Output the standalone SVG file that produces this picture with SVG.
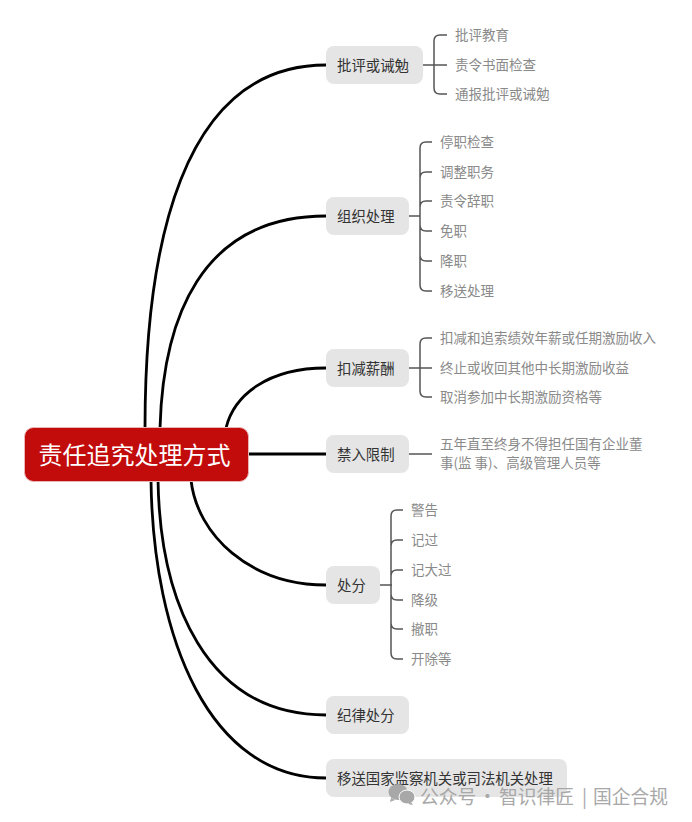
<svg xmlns="http://www.w3.org/2000/svg" width="692" height="822" viewBox="0 0 692 822">
<style>
text{font-family:"Noto Sans CJK SC","Noto Sans",sans-serif;dominant-baseline:central}
.main{fill:none;stroke:#000;stroke-width:2.800;stroke-linecap:butt}
.br{fill:none;stroke:#555;stroke-width:1.500}
.n{fill:#e5e5e5}
.nt{font-size:14.400px;fill:#333}
.c{font-size:13.500px;fill:#8a8a8a}
.wm{font-size:18.800px;fill:#a8a8a8}
</style>
<rect width="692" height="822" fill="#fff"/>
<g id="connectors">
<path class="main" d="M145 428C145 250 180 65 326 65"/>
<path class="main" d="M160 428C163 320 200 216 326 216"/>
<path class="main" d="M226 428C234 395 268 368 326 368"/>
<path class="main" d="M248 454H326"/>
<path class="main" d="M191 480C197 535 250 585 326 585"/>
<path class="main" d="M158 480C160 600 205 715 326 715"/>
<path class="main" d="M151 480C153 640 210 778 326 778"/>
<path class="br" d="M423 65H447M447 35H440Q434 35 434 41V88Q434 94 440 94H447"/>
<path class="br" d="M409 216H420M432 142H426Q420 142 420 148V285Q420 291 426 291H432M432 172H426Q420 172 420 178M432 201H426Q420 201 420 207M420 225Q420 231 426 231H432M420 255Q420 261 426 261H432"/>
<path class="br" d="M409 368H432M432 338H426Q420 338 420 344V391Q420 397 426 397H432"/>
<path class="br" d="M409 454H432"/>
<path class="br" d="M380 585H392M403 510H397Q391 510 391 516V653Q391 659 397 659H403M403 540H397Q391 540 391 546M403 570H397Q391 570 391 576M391 594Q391 600 397 600H403M391 623Q391 629 397 629H403"/>
</g>
<g id="root"><rect x="24.500" y="427.500" width="224" height="54" rx="9" fill="#c20c0c" stroke="#e9b5b5" stroke-width="1"/><text x="134.500" y="453" font-size="24" fill="#fff" text-anchor="middle">责任追究处理方式</text></g>
<g id="n1"><rect class="n" x="326" y="46" width="97" height="38" rx="8"/><text class="nt" x="337" y="64">批评或诫勉</text>
<text class="c" x="455" y="34">批评教育</text><text class="c" x="455" y="64">责令书面检查</text><text class="c" x="455" y="93">通报批评或诫勉</text></g>
<g id="n2"><rect class="n" x="326" y="197" width="83" height="38" rx="8"/><text class="nt" x="337" y="215">组织处理</text>
<text class="c" x="440" y="141">停职检查</text><text class="c" x="440" y="171">调整职务</text><text class="c" x="440" y="200">责令辞职</text><text class="c" x="440" y="230">免职</text><text class="c" x="440" y="260">降职</text><text class="c" x="440" y="290">移送处理</text></g>
<g id="n3"><rect class="n" x="326" y="349" width="83" height="38" rx="8"/><text class="nt" x="337" y="367">扣减薪酬</text>
<text class="c" x="440" y="337">扣减和追索绩效年薪或任期激励收入</text><text class="c" x="440" y="367">终止或收回其他中长期激励收益</text><text class="c" x="440" y="396">取消参加中长期激励资格等</text></g>
<g id="n4"><rect class="n" x="326" y="435" width="83" height="38" rx="8"/><text class="nt" x="337" y="453">禁入限制</text>
<text class="c" x="440" y="443">五年直至终身不得担任国有企业董</text><text class="c" x="440" y="462">事(监 事)、高级管理人员等</text></g>
<g id="n5"><rect class="n" x="326" y="566" width="54" height="38" rx="8"/><text class="nt" x="337" y="584">处分</text>
<text class="c" x="411" y="509">警告</text><text class="c" x="411" y="539">记过</text><text class="c" x="411" y="569">记大过</text><text class="c" x="411" y="599">降级</text><text class="c" x="411" y="628">撤职</text><text class="c" x="411" y="658">开除等</text></g>
<g id="n6"><rect class="n" x="326" y="696" width="83" height="38" rx="8"/><text class="nt" x="337" y="714">纪律处分</text></g>
<g id="n7"><rect class="n" x="326" y="759" width="241" height="38" rx="8"/><text class="nt" x="337" y="777">移送国家监察机关或司法机关处理</text></g>
<g id="watermark"><ellipse cx="398" cy="792" rx="9.500" ry="8" fill="#a8a8a8"/><path d="M391 798l-1 4 5-2z" fill="#a8a8a8"/><ellipse cx="407" cy="797" rx="8" ry="7" fill="#a8a8a8" stroke="#fff" stroke-width="1"/><path d="M411 802l2 3-5-1z" fill="#a8a8a8"/>
<text class="wm" x="420" y="795">公众号</text><text class="wm" x="478" y="795">·</text><text class="wm" x="499" y="795">智识律匠</text><text class="wm" x="582" y="795">|</text><text class="wm" x="593" y="795">国企合规</text></g>
</svg>
